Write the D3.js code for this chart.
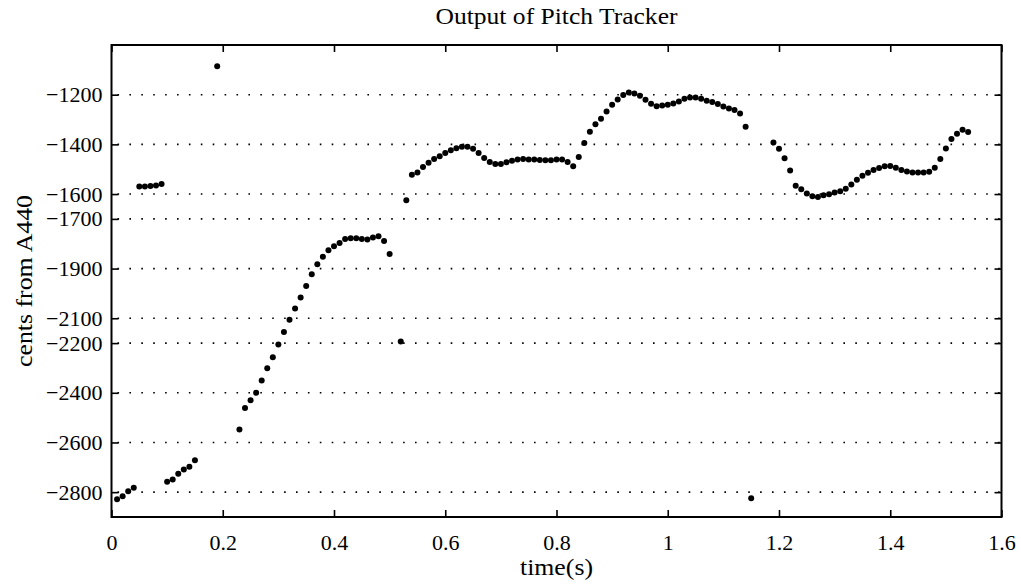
<!DOCTYPE html>
<html>
<head>
<meta charset="utf-8">
<script src="https://cdn.jsdelivr.net/npm/d3@7/dist/d3.min.js"></script>
<style>
  html, body { margin: 0; padding: 0; background: #fff; }
  svg { display: block; }
  text { font-family: "Liberation Serif", "Times New Roman", serif; fill: #000; }
</style>
</head>
<body>
<svg id="chart" width="1021" height="584"></svg>
<script>
// Pitch tracker output: one estimate every 10 ms, unvoiced frames left out.
const times = [
  0.01, 0.02, 0.03, 0.04,
  0.05, 0.06, 0.07, 0.08, 0.09,
  0.10, 0.11, 0.12, 0.13, 0.14, 0.15,
  0.19,
  0.23, 0.24, 0.25, 0.26, 0.27, 0.28, 0.29, 0.30, 0.31, 0.32, 0.33, 0.34, 0.35, 0.36, 0.37,
  0.38, 0.39, 0.40, 0.41, 0.42, 0.43, 0.44, 0.45, 0.46, 0.47, 0.48, 0.49, 0.50,
  0.52, 0.53,
  0.54, 0.55, 0.56, 0.57, 0.58, 0.59, 0.60, 0.61, 0.62, 0.63, 0.64, 0.65, 0.66, 0.67, 0.68, 0.69,
  0.70, 0.71, 0.72, 0.73, 0.74, 0.75, 0.76, 0.77, 0.78, 0.79, 0.80, 0.81, 0.82, 0.83,
  0.84, 0.85, 0.86, 0.87, 0.88, 0.89, 0.90, 0.91, 0.92, 0.93, 0.94, 0.95, 0.96, 0.97, 0.98, 0.99,
  1.00, 1.01, 1.02, 1.03, 1.04, 1.05, 1.06, 1.07, 1.08, 1.09, 1.10, 1.11, 1.12, 1.13, 1.14,
  1.15,
  1.19, 1.20, 1.21, 1.22, 1.23, 1.24, 1.25, 1.26, 1.27, 1.28, 1.29, 1.30, 1.31, 1.32, 1.33,
  1.34, 1.35, 1.36, 1.37, 1.38, 1.39, 1.40, 1.41, 1.42, 1.43, 1.44, 1.45, 1.46, 1.47, 1.48,
  1.49, 1.50, 1.51, 1.52, 1.53, 1.54
];

const cents = [
  -2829, -2816, -2796, -2782,
  -1570, -1570, -1568, -1566, -1560,
  -2758, -2749, -2726, -2709, -2698, -2672,
  -1086,
  -2548, -2461, -2430, -2400, -2351, -2301, -2257, -2206, -2155, -2106, -2061, -2016, -1970, -1923, -1883,
  -1852, -1826, -1810, -1797, -1781, -1778, -1778, -1781, -1783, -1775, -1770, -1789, -1841,
  -2194, -1625,
  -1522, -1513, -1491, -1474, -1459, -1448, -1435, -1424, -1416, -1410, -1410, -1418, -1435, -1455, -1471, -1479,
  -1479, -1472, -1466, -1461, -1459, -1461, -1461, -1463, -1464, -1464, -1461, -1461, -1471, -1488,
  -1451, -1394, -1349, -1319, -1297, -1268, -1241, -1219, -1201, -1191, -1195, -1204, -1220, -1236, -1247, -1244,
  -1241, -1235, -1227, -1216, -1211, -1211, -1216, -1224, -1229, -1237, -1248, -1256, -1262, -1276, -1329,
  -2825,
  -1392, -1418, -1456, -1505, -1567, -1581, -1598, -1609, -1612, -1605, -1601, -1594, -1589, -1579, -1562,
  -1542, -1526, -1514, -1503, -1495, -1488, -1487, -1494, -1503, -1509, -1513, -1513, -1513, -1510, -1494,
  -1459, -1417, -1378, -1357, -1341, -1350
];

const xTicks = [0, 0.2, 0.4, 0.6, 0.8, 1.0, 1.2, 1.4, 1.6];
const yTicks = [-1200, -1400, -1600, -1700, -1900, -2100, -2200, -2400, -2600, -2800];

const title = "Output of Pitch Tracker";
const xLabel = "time(s)";
const yLabel = "cents from A440";

const svg = d3.select("#chart");
const margin = { left: 111.5, right: 1001.5, top: 45, bottom: 517 };

const x = d3.scaleLinear().domain([0, 1.6]).range([margin.left, margin.right]);
const y = d3.scaleLinear().domain([-2900, -1000]).range([margin.bottom, margin.top]);

const tickLen = 7;

// dotted horizontal grid at each labelled cents value
svg.append("g")
  .selectAll("line")
  .data(yTicks)
  .join("line")
  .attr("x1", margin.left + 6)
  .attr("x2", margin.right)
  .attr("y1", d => y(d))
  .attr("y2", d => y(d))
  .attr("stroke", "#000")
  .attr("stroke-width", 1.6)
  .attr("stroke-dasharray", "1.6,10.3");

// axes with inward ticks on all four sides
const axisStyle = g => {
  g.select(".domain").remove();
  g.selectAll(".tick line").attr("stroke", "#000").attr("stroke-width", 1.6);
  g.selectAll(".tick text")
    .attr("font-family", "Liberation Serif, serif")
    .attr("font-size", 22)
    .attr("fill", "#000");
};

svg.append("g")
  .attr("transform", `translate(0,${margin.bottom})`)
  .call(d3.axisBottom(x).tickValues(xTicks).tickSizeInner(-tickLen).tickSizeOuter(0)
    .tickPadding(17).tickFormat(d3.format("~g")))
  .call(axisStyle);

svg.append("g")
  .attr("transform", `translate(0,${margin.top})`)
  .call(d3.axisTop(x).tickValues(xTicks).tickSizeInner(-tickLen).tickSizeOuter(0).tickFormat(""))
  .call(axisStyle);

svg.append("g")
  .attr("transform", `translate(${margin.left},0)`)
  .call(d3.axisLeft(y).tickValues(yTicks).tickSizeInner(-tickLen).tickSizeOuter(0)
    .tickPadding(9).tickFormat(d3.format("d")))
  .call(axisStyle);

svg.append("g")
  .attr("transform", `translate(${margin.right},0)`)
  .call(d3.axisRight(y).tickValues(yTicks).tickSizeInner(-tickLen).tickSizeOuter(0).tickFormat(""))
  .call(axisStyle);

// plot frame
svg.append("rect")
  .attr("x", margin.left)
  .attr("y", margin.top)
  .attr("width", margin.right - margin.left)
  .attr("height", margin.bottom - margin.top)
  .attr("fill", "none")
  .attr("stroke", "#000")
  .attr("stroke-width", 2);

// pitch estimates
svg.append("g")
  .selectAll("circle")
  .data(times.map((t, i) => ({ t, c: cents[i] })))
  .join("circle")
  .attr("cx", d => x(d.t))
  .attr("cy", d => y(d.c))
  .attr("r", 3)
  .attr("fill", "#000");

// titles, set in a wide book face
svg.append("text")
  .attr("x", (margin.left + margin.right) / 2)
  .attr("y", 24)
  .attr("text-anchor", "middle")
  .attr("font-size", 23)
  .attr("textLength", 242)
  .attr("lengthAdjust", "spacingAndGlyphs")
  .text(title);

svg.append("text")
  .attr("x", (margin.left + margin.right) / 2)
  .attr("y", 575)
  .attr("text-anchor", "middle")
  .attr("font-size", 23)
  .attr("textLength", 73)
  .attr("lengthAdjust", "spacingAndGlyphs")
  .text(xLabel);

svg.append("text")
  .attr("transform", `translate(32,${(margin.top + margin.bottom) / 2}) rotate(-90)`)
  .attr("text-anchor", "middle")
  .attr("font-size", 23)
  .attr("textLength", 172)
  .attr("lengthAdjust", "spacingAndGlyphs")
  .text(yLabel);
</script>
</body>
</html>
